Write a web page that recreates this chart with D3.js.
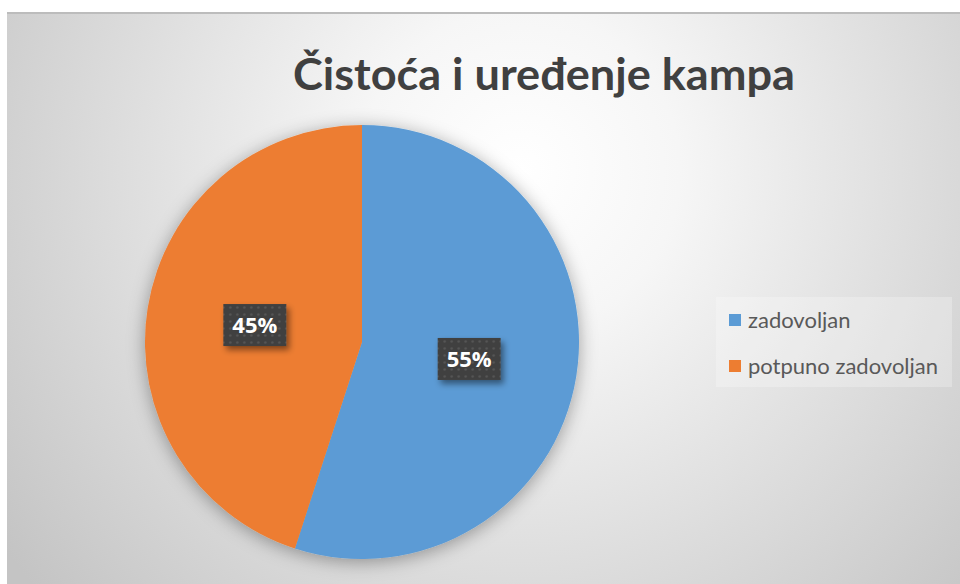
<!DOCTYPE html>
<html lang="hr">
  <head>
    <meta charset="utf-8">
    <title>Čistoća i uređenje kampa</title>
    <script src="https://d3js.org/d3.v7.js"></script>
    <style>
      body { margin: 0; background: #fff; }
    </style>
  </head>
  <body>
    <script>
      // data
      const categories = ["zadovoljan", "potpuno zadovoljan"];
      const values = [55, 45];
      const colors = ["#5b9bd5", "#ed7d31"];
      const title = "Čistoća i uređenje kampa";

      const w = 960;
      const h = 584;
      const cx = 362, cy = 342, radius = 217;

      const svg = d3.select("body")
        .append("svg")
        .attr("width", w)
        .attr("height", h);

      const defs = svg.append("defs");

      const bg = defs.append("radialGradient")
        .attr("id", "bg")
        .attr("gradientUnits", "userSpaceOnUse")
        .attr("cx", 520).attr("cy", 170).attr("r", 640);
      bg.append("stop").attr("offset", "0").attr("stop-color", "#ffffff");
      bg.append("stop").attr("offset", "0.25").attr("stop-color", "#f6f6f6");
      bg.append("stop").attr("offset", "1").attr("stop-color", "#c4c4c4");

      const shadow = defs.append("filter")
        .attr("id", "pieShadow")
        .attr("x", "-20%").attr("y", "-20%")
        .attr("width", "140%").attr("height", "140%");
      shadow.append("feDropShadow")
        .attr("dx", 0).attr("dy", 3)
        .attr("stdDeviation", 9)
        .attr("flood-color", "#000")
        .attr("flood-opacity", 0.35);

      const boxShadow = defs.append("filter")
        .attr("id", "boxShadow")
        .attr("x", "-30%").attr("y", "-30%")
        .attr("width", "160%").attr("height", "160%");
      boxShadow.append("feDropShadow")
        .attr("dx", 3).attr("dy", 4)
        .attr("stdDeviation", 3)
        .attr("flood-color", "#000")
        .attr("flood-opacity", 0.45);

      const dots = defs.append("pattern")
        .attr("id", "dots")
        .attr("patternUnits", "userSpaceOnUse")
        .attr("width", 7).attr("height", 7);
      dots.append("rect").attr("width", 7).attr("height", 7).attr("fill", "#404040");
      dots.append("circle").attr("cx", 3.5).attr("cy", 3.5).attr("r", 1.2).attr("fill", "#565656");

      // chart area
      svg.append("rect")
        .attr("x", 7).attr("y", 12)
        .attr("width", w - 7).attr("height", h - 12)
        .attr("fill", "url(#bg)");
      svg.append("line")
        .attr("x1", 7).attr("x2", w)
        .attr("y1", 13).attr("y2", 13)
        .attr("stroke", "#bcbcbc")
        .attr("stroke-width", 2);

      svg.append("text")
        .attr("x", 544).attr("y", 90)
        .attr("text-anchor", "middle")
        .attr("font-family", "Lato, 'Open Sans', sans-serif")
        .attr("font-weight", "bold")
        .attr("font-size", 43)
        .attr("textLength", 502)
        .attr("lengthAdjust", "spacingAndGlyphs")
        .attr("fill", "#404040")
        .text(title);

      // pie
      const pie = d3.pie().sort(null).value(d => d);
      const arc = d3.arc().innerRadius(0).outerRadius(radius);
      const arcs = pie(values);

      const g = svg.append("g")
        .attr("transform", `translate(${cx}, ${cy})`);

      g.append("g")
        .attr("filter", "url(#pieShadow)")
        .selectAll("path")
        .data(arcs)
        .enter().append("path")
        .attr("d", arc)
        .attr("fill", (d, i) => colors[i]);

      // data labels
      const boxW = 63, boxH = 42;
      const labels = g.selectAll(".lbl")
        .data(arcs)
        .enter().append("g")
        .attr("class", "lbl")
        .attr("transform", d => `translate(${arc.centroid(d)})`);

      labels.append("rect")
        .attr("x", -boxW / 2).attr("y", -boxH / 2)
        .attr("width", boxW).attr("height", boxH)
        .attr("fill", "url(#dots)")
        .attr("filter", "url(#boxShadow)");

      labels.append("text")
        .attr("text-anchor", "middle")
        .attr("dy", "0.36em")
        .attr("font-family", "'Open Sans', sans-serif")
        .attr("font-weight", "bold")
        .attr("font-size", 22)
        .attr("fill", "#ffffff")
        .text(d => d3.format(".0%")(d.data / d3.sum(values)));

      // legend
      const legend = svg.append("g")
        .attr("transform", "translate(716, 297)");
      legend.append("rect")
        .attr("width", 236).attr("height", 90)
        .attr("fill", "#ffffff")
        .attr("fill-opacity", 0.25);

      const items = legend.selectAll(".item")
        .data(categories)
        .enter().append("g")
        .attr("class", "item")
        .attr("transform", (d, i) => `translate(13, ${23 + i * 46})`);
      items.append("rect")
        .attr("x", 0).attr("y", -6)
        .attr("width", 12).attr("height", 12)
        .attr("fill", (d, i) => colors[i]);
      items.append("text")
        .attr("x", 19).attr("dy", "0.35em")
        .attr("font-family", "Lato, 'Open Sans', sans-serif")
        .attr("font-size", 22)
        .attr("fill", "#595959")
        .text(d => d);
    </script>
  </body>
</html>
